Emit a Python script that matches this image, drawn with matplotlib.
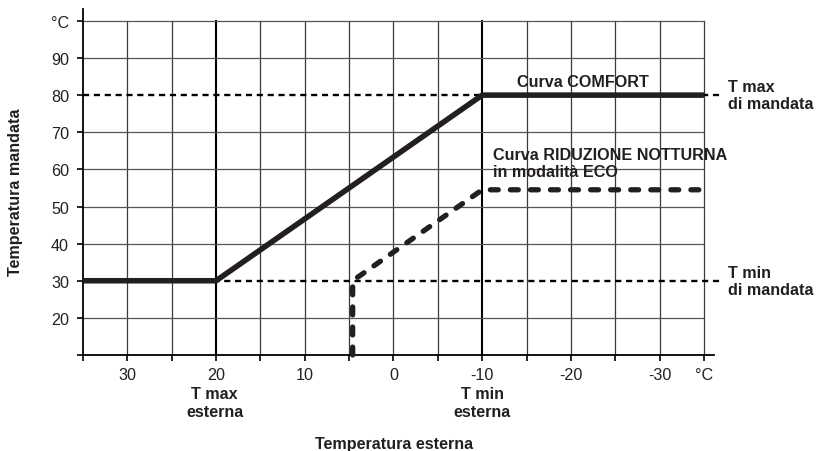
import numpy as np
import matplotlib
matplotlib.use("Agg")
import matplotlib.pyplot as plt

plt.rcParams['font.family'] = ['Liberation Sans', 'DejaVu Sans']

# Heating curves: outdoor temperature (x) vs flow temperature (y)
comfort_x = [35, 20, -10, -35]
comfort_y = [30, 30, 80, 80]
eco_x = [4.6, 4.6, -10, -35]
eco_y = [10, 30, 54.5, 54.5]

t_max_mandata = 80
t_min_mandata = 30
t_max_esterna = 20
t_min_esterna = -10

x_ticks = list(range(35, -36, -5))
x_ticklabels = ['', '30', '', '20', '', '10', '', '0', '', '-10', '', '-20', '', '-30', '°C']
y_ticks = list(range(10, 101, 10))
y_ticklabels = ['', '20', '30', '40', '50', '60', '70', '80', '90', '°C']

ink = '#231f20'
fs = 11.6
ls = 1.18

fig = plt.figure(figsize=(8.16, 4.52), dpi=100)
ax = fig.add_axes([83 / 816, 96 / 452, (713.7 - 83) / 816, 346 / 452])
ax.set_xlim(35, -36.1)
ax.set_ylim(10, 103.2)

# grid
for xv in x_ticks[1:]:
    strong = xv in (t_max_esterna, t_min_esterna)
    ax.plot([xv, xv], [10, 100], color='black' if strong else '#3a3a3a',
            lw=1.5 if strong else 0.9, zorder=1)
for yv in y_ticks[1:]:
    if yv in (t_max_mandata, t_min_mandata):
        continue
    ax.plot([35, -35], [yv, yv], color='#555555', lw=0.9, zorder=1)

# reference levels (dotted), extending past the plot edge
for yv in (t_max_mandata, t_min_mandata):
    ax.plot([35, -36.8], [yv, yv], color='black', lw=1.7,
            dashes=(2.6, 2.0), clip_on=False, zorder=2)

# curves
ax.plot(comfort_x, comfort_y, color=ink, lw=4.0, solid_joinstyle='round',
        solid_capstyle='butt', zorder=4)
ax.plot(eco_x, eco_y, color=ink, lw=3.8, dashes=(1.5, 2.3),
        dash_capstyle='round', dash_joinstyle='round', zorder=4, clip_on=False)

# spines & ticks
for s in ('top', 'right'):
    ax.spines[s].set_visible(False)
for s in ('left', 'bottom'):
    ax.spines[s].set_linewidth(1.3)
    ax.spines[s].set_color('black')
ax.set_xticks(x_ticks)
ax.set_xticklabels(x_ticklabels)
ax.set_yticks(y_ticks)
ax.set_yticklabels(y_ticklabels)
ax.tick_params(axis='both', direction='out', length=4, width=1.2, colors='black',
               labelcolor=ink, labelsize=fs)
ax.tick_params(axis='x', pad=5)
ax.tick_params(axis='y', pad=6)

# annotations
bold = dict(fontsize=fs, fontweight='bold', color=ink)
ax.text(-13.9, 83.6, 'Curva COMFORT', ha='left', va='center', **bold)
ax.text(-11.2, 61.7, 'Curva RIDUZIONE NOTTURNA\nin modalità ECO', ha='left',
        va='center', linespacing=ls, **bold)
ax.text(-37.7, t_max_mandata, 'T max\ndi mandata', ha='left', va='center',
        linespacing=ls, clip_on=False, **bold)
ax.text(-37.7, t_min_mandata, 'T min\ndi mandata', ha='left', va='center',
        linespacing=ls, clip_on=False, **bold)
ax.annotate('T max\nesterna', xy=(t_max_esterna, 10), xytext=(-1, -34.2),
            textcoords='offset points', ha='center', va='center',
            linespacing=ls, annotation_clip=False, **bold)
ax.annotate('T min\nesterna', xy=(t_min_esterna, 10), xytext=(0, -34.2),
            textcoords='offset points', ha='center', va='center',
            linespacing=ls, annotation_clip=False, **bold)

fig.text(394 / 816, (452 - 445) / 452, 'Temperatura esterna', ha='center',
         va='center', **bold)
fig.text(16 / 816, (452 - 192) / 452, 'Temperatura mandata', ha='center',
         va='center', rotation=90, **bold)

fig.savefig('out.png', dpi=100)
